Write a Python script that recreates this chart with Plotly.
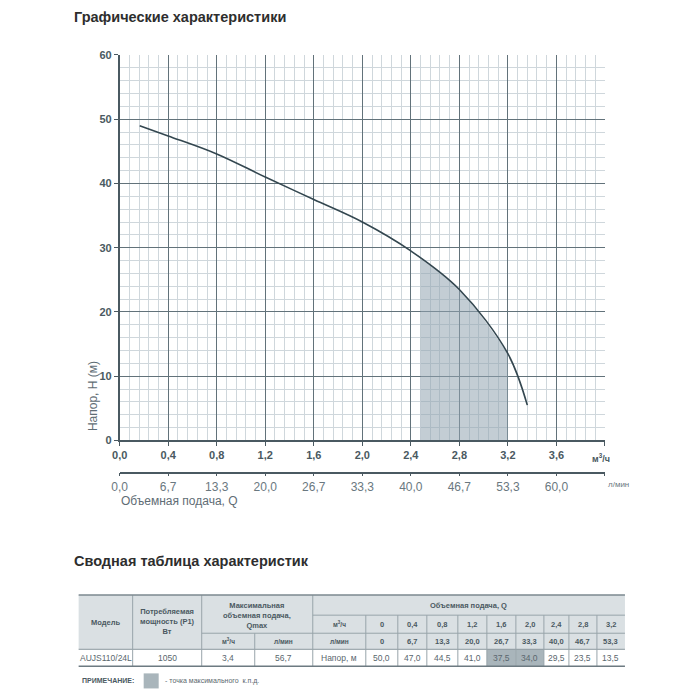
import plotly.graph_objects as go

# ---------------- data ----------------
q_curve = [0.165, 0.4, 0.8, 1.2, 1.6, 2.0, 2.4, 2.8, 3.2, 3.36]         # m3/h
h_curve = [49.0, 47.4, 44.6, 41.0, 37.5, 34.0, 29.5, 23.5, 13.5, 5.5]   # m
q_fill = [2.48, 2.8, 3.2]
h_fill = [28.3, 23.5, 13.5]

x_ticks = [0, 0.4, 0.8, 1.2, 1.6, 2.0, 2.4, 2.8, 3.2, 3.6, 4.0]
x_ticktext = ["0,0", "0,4", "0,8", "1,2", "1,6", "2,0", "2,4", "2,8", "3,2", "3,6", ""]
x2_ticktext = ["0,0", "6,7", "13,3", "20,0", "26,7", "33,3", "40,0", "46,7", "53,3", "60,0", ""]
y_ticks = [0, 10, 20, 30, 40, 50, 60]

# table data
tbl_q_m3h = ["0", "0,4", "0,8", "1,2", "1,6", "2,0", "2,4", "2,8", "3,2"]
tbl_q_lmin = ["0", "6,7", "13,3", "20,0", "26,7", "33,3", "40,0", "46,7", "53,3"]
tbl_head = ["50,0", "47,0", "44,5", "41,0", "37,5", "34,0", "29,5", "23,5", "13,5"]
tbl_bep = [False, False, False, False, True, True, False, False, False]
model = "AUJS110/24L"
power = "1050"
qmax_m3h = "3,4"
qmax_lmin = "56,7"

# ---------------- helpers ----------------
W = H = 700
OX, SX = 15.4, 0.988
OY, SY = 15.2, 0.979
def px(x):
    return (x - OX) / SX / W
def py(y):
    return 1 - (y - OY) / SY / H

DARK = "#4a5961"
MAJOR = "#62727a"
MINOR = "#cfd7dc"
SHADE = "#a9b5bb"

fig = go.Figure()

fig.add_trace(go.Scatter(
    x=q_fill, y=h_fill, mode="lines", line=dict(width=0, shape="spline"),
    fill="tozeroy", fillcolor="rgba(145,164,176,0.55)", hoverinfo="skip", showlegend=False))
fig.add_trace(go.Scatter(
    x=q_curve, y=h_curve, mode="lines",
    line=dict(color="#344750", width=1.6, shape="spline", smoothing=1.0),
    showlegend=False))
fig.add_trace(go.Scatter(x=[], y=[], xaxis="x2", yaxis="y", showlegend=False))

fig.update_layout(
    width=W, height=H, margin=dict(l=0, r=0, t=0, b=0),
    paper_bgcolor="white", plot_bgcolor="white",
    font=dict(family="Liberation Sans, Arial, sans-serif", color=DARK),
    xaxis=dict(
        domain=[px(119), px(604)], range=[0, 4.0], anchor="y",
        tickmode="array", tickvals=x_ticks, ticktext=x_ticktext,
        showgrid=True, gridcolor=MAJOR, gridwidth=1,
        minor=dict(dtick=0.08, tick0=0, showgrid=True, gridcolor=MINOR, gridwidth=1),
        showline=True, linecolor=DARK, linewidth=1.5,
        ticks="outside", ticklen=4, tickcolor=DARK,
        tickfont=dict(size=11, color=DARK, weight="bold"),
        zeroline=False, fixedrange=True),
    xaxis2=dict(
        overlaying="x", anchor="free", position=py(472), side="bottom",
        range=[0, 4.0], tickmode="array", tickvals=x_ticks, ticktext=x2_ticktext,
        showgrid=False, showline=True, linecolor=DARK, linewidth=1.5,
        ticks="outside", ticklen=3, tickcolor=DARK,
        tickfont=dict(size=12, color="#6a7880"), zeroline=False),
    yaxis=dict(
        domain=[py(440), py(56)], range=[0, 60],
        tickmode="array", tickvals=y_ticks,
        showgrid=True, gridcolor=MAJOR, gridwidth=1,
        minor=dict(dtick=2, tick0=0, showgrid=True, gridcolor=MINOR, gridwidth=1),
        showline=True, linecolor=DARK, linewidth=1.5,
        ticks="outside", ticklen=4, tickcolor=DARK,
        tickfont=dict(size=11, color=DARK, weight="bold"),
        zeroline=False, fixedrange=True),
)

ann = []
def text(x, y, s, size=8, bold=False, color=DARK, xanchor="center", angle=0, yanchor="middle"):
    ann.append(dict(x=px(x), y=py(y), xref="paper", yref="paper", text=s, showarrow=False,
                    xanchor=xanchor, yanchor=yanchor, textangle=angle,
                    font=dict(size=size, color=color, weight="bold" if bold else "normal",
                              family="Liberation Sans, Arial, sans-serif")))

# titles and axis labels
text(71, 18, "Графические характеристики", size=14.5, bold=True, color="#2e2e2e", xanchor="left")
text(71, 560, "Сводная таблица характеристик", size=14.5, bold=True, color="#2e2e2e", xanchor="left")
text(93, 433, "Напор, H (м)", size=12, color="#5f6d75", angle=-90, yanchor="bottom")
text(118, 500, "Объемная подача, Q", size=12, color="#5f6d75", xanchor="left")
text(600, 457, "м<sup>3</sup>/ч", size=9, bold=True)
text(618, 484, "л/мин", size=8, color="#6a7880")

# ---------------- table ----------------
shapes = []
cols = [78, 132, 201, 254, 312, 365, 397, 426, 457, 486, 515, 543, 568, 596, 624]
rows = [594, 614, 632, 648, 665]
LINE = "#98a4aa"

def rect(x0, y0, x1, y1, fill, lc=None, lw=0):
    shapes.append(dict(type="rect", xref="paper", yref="paper",
                       x0=px(x0), x1=px(x1), y0=py(y1), y1=py(y0),
                       fillcolor=fill, line=dict(width=lw, color=lc or fill), layer="above"))
def line(x0, y0, x1, y1, color=LINE, w=1):
    shapes.append(dict(type="line", xref="paper", yref="paper",
                       x0=px(x0), x1=px(x1), y0=py(y0), y1=py(y1),
                       line=dict(color=color, width=w), layer="above"))

rect(cols[0], rows[0], cols[-1], rows[3], "#dae0e3")
for i, bep in enumerate(tbl_bep):
    if bep:
        rect(cols[5 + i], rows[3], cols[6 + i], rows[4], SHADE)

line(cols[4], rows[1], cols[-1], rows[1])
line(cols[2], rows[2], cols[-1], rows[2])
line(cols[0], rows[3], cols[-1], rows[3], color="#8a979d")
for c in (cols[1], cols[2], cols[4]):
    line(c, rows[0], c, rows[4])
line(cols[3], rows[2], cols[3], rows[4])
for c in cols[5:-1]:
    line(c, rows[1], c, rows[4])
line(cols[0], rows[0], cols[-1], rows[0], color="#7b888f", w=1.5)
line(cols[0], rows[4], cols[-1], rows[4], color="#6d7a81", w=1.5)

def cx(i):
    return (cols[i] + cols[i + 1]) / 2
def cy(j):
    return (rows[j] + rows[j + 1]) / 2

HS = 7.5
text(cx(0), 621, "Модель", size=HS, bold=True)
text(cx(1), 620, "Потребляемая<br>мощность (P1)<br>Вт", size=HS, bold=True)
text((cols[2] + cols[4]) / 2, 614, "Максимальная<br>объемная подача,<br>Qmax", size=HS, bold=True)
text((cols[4] + cols[-1]) / 2, cy(0), "Объемная подача, Q", size=HS, bold=True)
text(cx(4), cy(1), "м<sup>3</sup>/ч", size=6.5, bold=True)
text(cx(2), cy(2), "м<sup>3</sup>/ч", size=6.5, bold=True)
text(cx(3), cy(2), "л/мин", size=6.5, bold=True)
text(cx(4), cy(2), "л/мин", size=6.5, bold=True)
for i in range(9):
    text(cx(5 + i), cy(1), tbl_q_m3h[i], size=HS, bold=True)
    text(cx(5 + i), cy(2), tbl_q_lmin[i], size=HS, bold=True)
    text(cx(5 + i), cy(3), tbl_head[i], size=8.5, color="#5a676e")
text(cx(0), cy(3), model, size=8.5, color="#5a676e")
text(cx(1), cy(3), power, size=8.5, color="#5a676e")
text(cx(2), cy(3), qmax_m3h, size=8.5, color="#5a676e")
text(cx(3), cy(3), qmax_lmin, size=8.5, color="#5a676e")
text(cx(4), cy(3), "Напор, м", size=8.5, color="#5a676e")

# note
text(79, 679, "ПРИМЕЧАНИЕ:", size=7, bold=True, xanchor="left")
rect(143, 672, 158, 687, SHADE)
text(162, 680, "- точка максимального  к.п.д.", size=7, color="#5a676e", xanchor="left")

fig.update_layout(annotations=ann, shapes=shapes)
fig.write_html("out.html")
